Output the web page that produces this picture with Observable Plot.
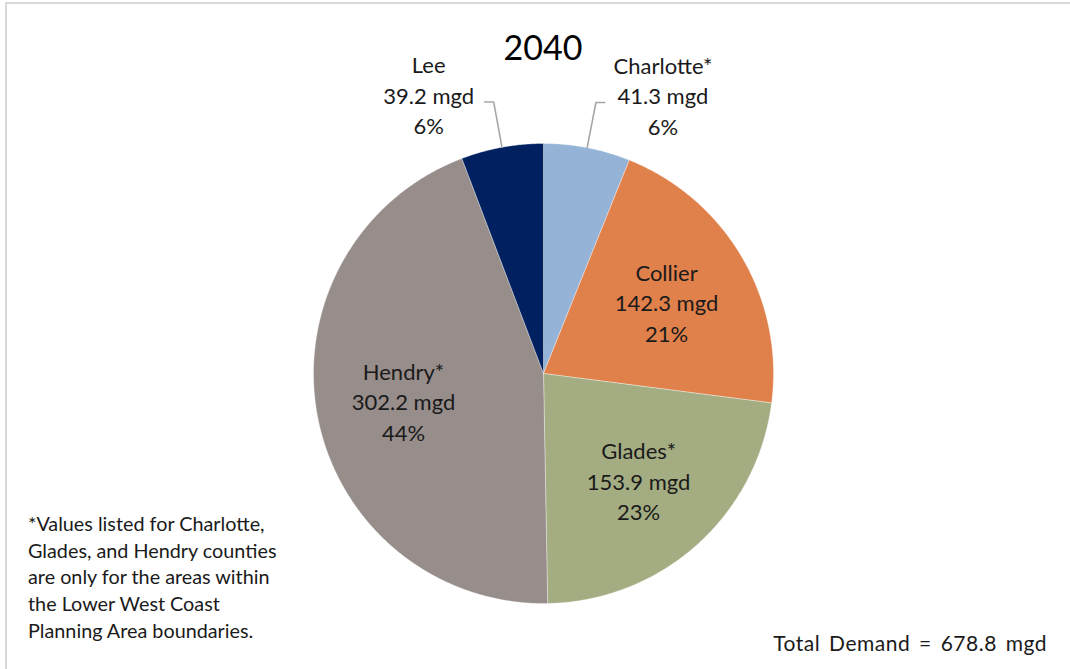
<!DOCTYPE html>
<html><head><meta charset="utf-8">
<script src="https://cdn.jsdelivr.net/npm/d3@7"></script>
<script src="https://cdn.jsdelivr.net/npm/@observablehq/plot@0.6"></script>
<style>
body{margin:0;background:#fff;font-family:Lato,"Noto Sans",sans-serif;color:#222;}
#wrap{position:relative;width:1070px;height:669px;overflow:hidden;}
#frame{position:absolute;left:5px;top:2px;width:1200px;height:800px;border-left:2px solid #d9d9d9;border-top:2px solid #d9d9d9;}
#chart{position:absolute;left:0;top:0;}
#title{position:absolute;left:443px;width:200px;top:26px;text-align:center;font-size:34px;color:#000;}
#note{position:absolute;left:28px;top:510px;font-size:19.8px;line-height:26.7px;color:#1a1a1a;}
#total{position:absolute;right:23px;top:630px;font-size:21px;letter-spacing:0.5px;word-spacing:3px;color:#1a1a1a;}
</style></head>
<body>
<div id="wrap"><div id="frame"></div><div id="chart"></div>
<div id="title"></div><div id="note"></div><div id="total"></div></div>
<script>
// ---- data ----
const counties = ["Charlotte*", "Collier", "Glades*", "Hendry*", "Lee"];
const demandMgd = [41.3, 142.3, 153.9, 302.2, 39.2];
const shareLabels = ["6%", "21%", "23%", "44%", "6%"];
const sliceColors = ["#95B3D7", "#E0804A", "#A4AD82", "#978D8B", "#002060"];
const chartTitle = "2040";
const footnoteLines = ["*Values listed for Charlotte,", "Glades, and Hendry counties", "are only for the areas within", "the Lower West Coast", "Planning Area boundaries."];
const totalText = "Total Demand = 678.8 mgd";

// ---- build ----
const rows = counties.map((c, i) => ({name: c, value: demandMgd[i], share: shareLabels[i]}));
const arcs = d3.pie().sort(null).value(d => d.value)(rows);

const wedgePts = [];
arcs.forEach(a => {
  wedgePts.push({name: a.data.name, x: 0, y: 0});
  const n = Math.max(4, Math.ceil((a.endAngle - a.startAngle) / 0.005));
  for (let k = 0; k <= n; k++) {
    const t = a.startAngle + (a.endAngle - a.startAngle) * k / n;
    wedgePts.push({name: a.data.name, x: Math.sin(t), y: Math.cos(t)});
  }
  wedgePts.push({name: a.data.name, x: 0, y: 0});
});

const total = d3.sum(demandMgd);
const insideLabels = [], outsideLabels = [], leaders = [];
const unit = 1 / 230; // one pixel in data units
arcs.forEach(a => {
  const mid = (a.startAngle + a.endAngle) / 2;
  const txt = `${a.data.name}\n${a.data.value.toFixed(1)} mgd\n${a.data.share}`;
  if (a.data.value / total > 0.1) {
    insideLabels.push({x: 0.62 * Math.sin(mid), y: 0.62 * Math.cos(mid), text: txt});
  } else {
    const side = Math.sin(mid) >= 0 ? 1 : -1;
    const ex = 1.2 * Math.sin(mid), ey = 1.2 * Math.cos(mid);
    const lx = ex + side * 9 * unit;
    leaders.push({name: a.data.name, x: Math.sin(mid), y: Math.cos(mid)});
    leaders.push({name: a.data.name, x: ex, y: ey});
    leaders.push({name: a.data.name, x: lx, y: ey});
    outsideLabels.push({x: lx, y: ey, text: txt, side});
  }
});

const labelStyle = {x: "x", y: "y", text: "text", fontSize: 22, lineHeight: 1.39, fill: "#1a1a1a"};
const chart = Plot.plot({
  width: 1070, height: 669,
  marginLeft: 313, marginRight: 297, marginTop: 143, marginBottom: 66,
  x: {domain: [-1, 1], axis: null},
  y: {domain: [-1, 1], axis: null},
  color: {domain: counties, range: sliceColors},
  style: {background: "transparent", fontFamily: "Lato, 'Noto Sans', sans-serif"},
  marks: [
    Plot.line(wedgePts, {x: "x", y: "y", z: "name", fill: "name", stroke: "#ffffff", strokeWidth: 0.6, strokeOpacity: 0.6, curve: "linear-closed"}),
    Plot.line(leaders, {x: "x", y: "y", z: "name", stroke: "#a6a6a6", strokeWidth: 1.6}),
    Plot.text(insideLabels, labelStyle),
    Plot.text(outsideLabels.filter(d => d.side > 0), {...labelStyle, dx: 58, dy: -8}),
    Plot.text(outsideLabels.filter(d => d.side < 0), {...labelStyle, dx: -56, dy: -8})
  ]
});
document.getElementById("chart").appendChild(chart);
document.getElementById("title").textContent = chartTitle;
document.getElementById("note").innerHTML = footnoteLines.map(s => `<div>${s}</div>`).join("");
document.getElementById("total").textContent = totalText;
</script>
</body></html>
